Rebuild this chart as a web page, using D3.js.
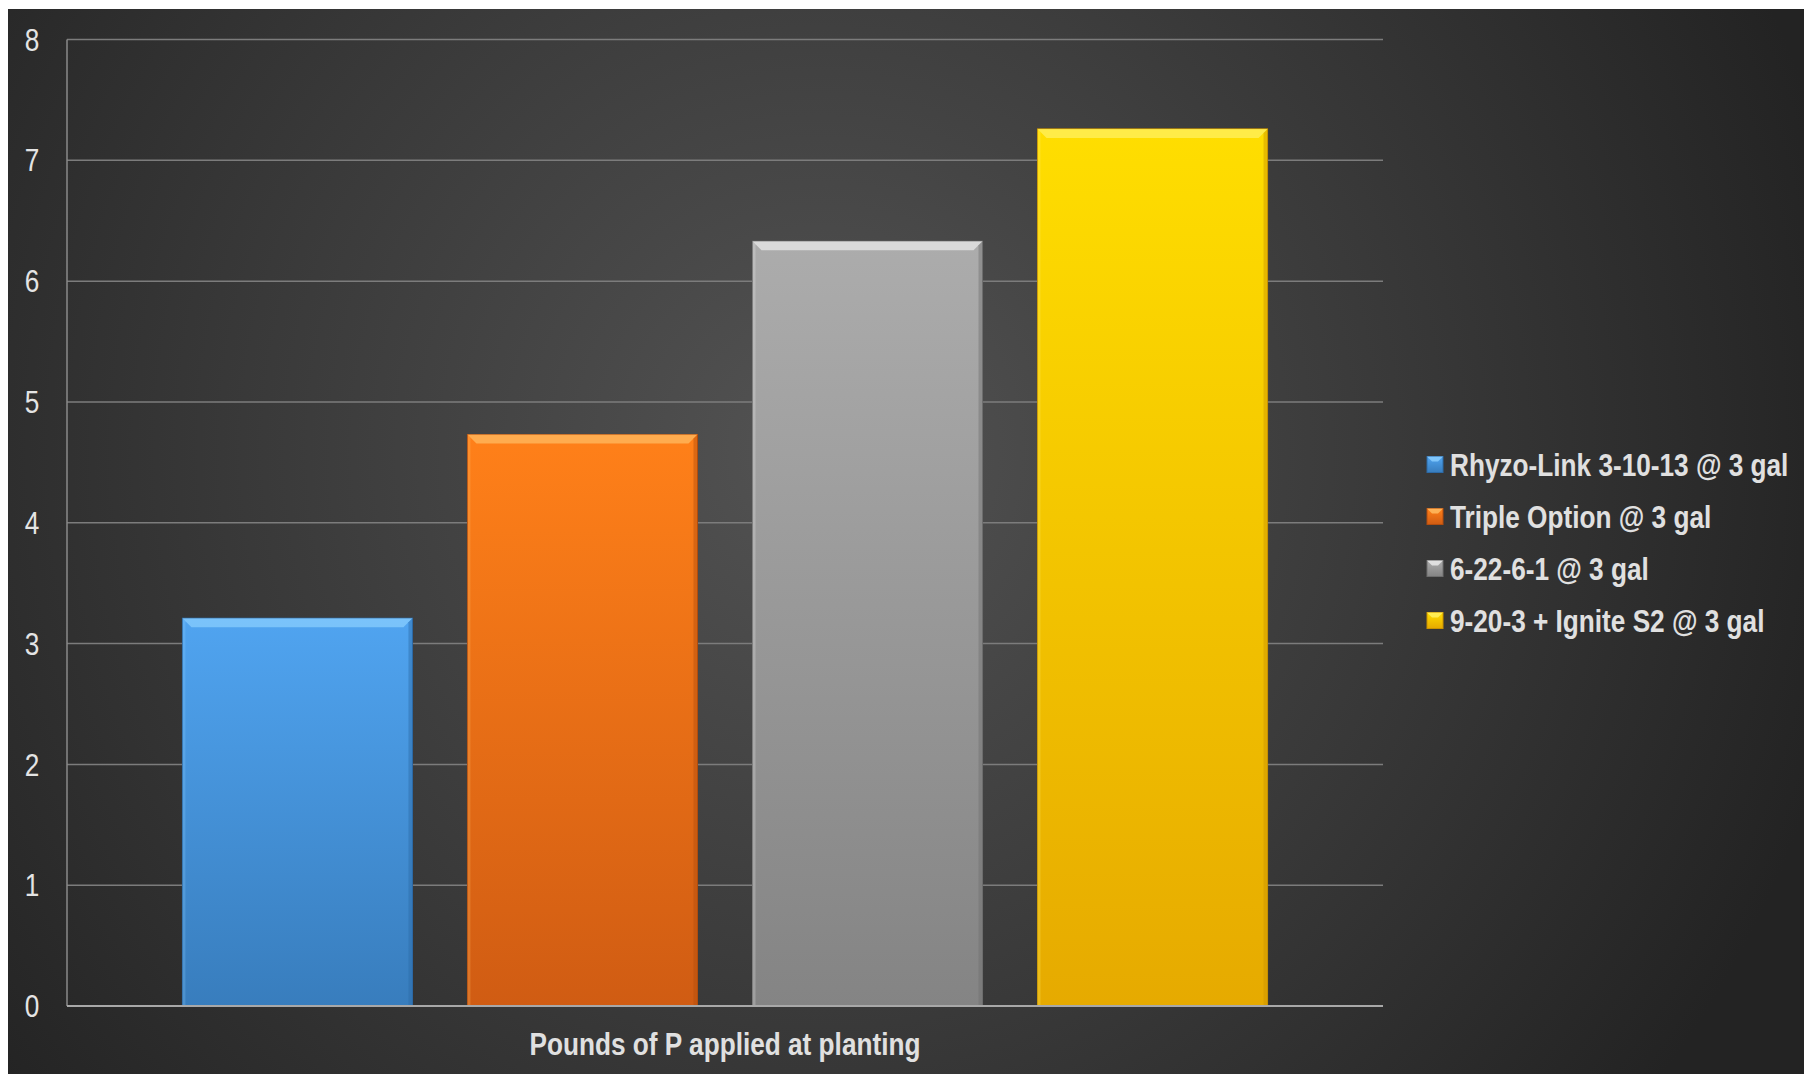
<!DOCTYPE html>
<html>
<head>
<meta charset="utf-8">
<script src="https://cdn.jsdelivr.net/npm/d3@7"></script>
<style>
  body { margin: 0; background: #ffffff; }
  svg { display: block; }
  .tick-label { font-family: "Liberation Sans", Arial, sans-serif; fill: #e4e4e4; }
  .bold-label { font-family: "Liberation Sans", Arial, sans-serif; font-weight: bold; fill: #e0e0e0; }
</style>
</head>
<body>
<svg id="chart" width="1804" height="1074"></svg>
<script>
// chart data
const seriesNames = ['Rhyzo-Link 3-10-13 @ 3 gal', 'Triple Option @ 3 gal', '6-22-6-1 @ 3 gal', '9-20-3 + Ignite S2 @ 3 gal']
const seriesValues = [3.21, 4.73, 6.33, 7.26]
const yTicks = [0, 1, 2, 3, 4, 5, 6, 7, 8]
const axisTitle = 'Pounds of P applied at planting'

// top / bottom colours for each bar
const topColors = ['#50a4f0', '#ff8019', '#acacac', '#ffde00']
const bottomColors = ['#387dbd', '#d05c13', '#848484', '#e6aa00']
const edgeColors = ['#2d6aa6', '#b24d0e', '#6e6e6e', '#c99200']
const lightColors = ['#8cd0ff', '#ffbf66', '#eeeeee', '#fff266']

// no narrow font installed, so squeeze the regular one
const narrow = 0.845

const svg = d3.select('#chart')
const W = 1804, H = 1074
const margin = { left: 67, right: 1383, top: 39.5, bottom: 1006 }

const defs = svg.append('defs')

// background radial gradient
const bg = defs.append('radialGradient')
  .attr('id', 'bgGrad')
  .attr('gradientUnits', 'userSpaceOnUse')
  .attr('cx', 820).attr('cy', 450).attr('r', 1050)
bg.append('stop').attr('offset', '0%').attr('stop-color', '#535353')
bg.append('stop').attr('offset', '55%').attr('stop-color', '#393939')
bg.append('stop').attr('offset', '100%').attr('stop-color', '#232323')

svg.append('rect')
  .attr('x', 8).attr('y', 9)
  .attr('width', W - 8).attr('height', H - 9)
  .attr('fill', 'url(#bgGrad)')

seriesNames.forEach((name, i) => {
  const g = defs.append('linearGradient')
    .attr('id', `barGrad${i}`)
    .attr('x1', 0).attr('y1', 0).attr('x2', 0).attr('y2', 1)
  g.append('stop').attr('offset', '0%').attr('stop-color', topColors[i])
  g.append('stop').attr('offset', '100%').attr('stop-color', bottomColors[i])
})

const y = d3.scaleLinear()
  .domain([0, 8])
  .range([margin.bottom, margin.top])

const x = d3.scaleBand()
  .domain(seriesNames)
  .range([margin.left, margin.right])
  .paddingInner(0.193)
  .paddingOuter(0.405)

// gridlines
svg.append('g')
  .selectAll('line')
  .data(yTicks.filter(t => t > 0))
  .join('line')
  .attr('x1', margin.left)
  .attr('x2', margin.right)
  .attr('y1', d => y(d))
  .attr('y2', d => y(d))
  .attr('stroke', '#7c7c7c')
  .attr('stroke-width', 1.5)

// left axis line
svg.append('line')
  .attr('x1', margin.left).attr('x2', margin.left)
  .attr('y1', y(8)).attr('y2', y(0))
  .attr('stroke', '#8a8a8a')
  .attr('stroke-width', 1.5)

// tick labels
svg.append('g')
  .selectAll('text')
  .data(yTicks)
  .join('text')
  .classed('tick-label', true)
  .attr('transform', d => `translate(32, ${y(d)}) scale(${narrow}, 1)`)
  .attr('dy', '0.36em')
  .attr('text-anchor', 'middle')
  .attr('font-size', 31)
  .text(d => d)

// bars with a bevelled look
const bev = 9
const bars = svg.append('g')
  .selectAll('g')
  .data(seriesValues)
  .join('g')

bars.append('rect')
  .attr('x', (d, i) => x(seriesNames[i]))
  .attr('y', d => y(d))
  .attr('width', x.bandwidth())
  .attr('height', d => y(0) - y(d))
  .attr('fill', (d, i) => `url(#barGrad${i})`)
  .attr('stroke', (d, i) => edgeColors[i])
  .attr('stroke-width', 1)

// top bevel
bars.append('path')
  .attr('d', (d, i) => {
    const x0 = x(seriesNames[i]), x1 = x0 + x.bandwidth(), y0 = y(d)
    return `M${x0},${y0}L${x1},${y0}L${x1 - bev},${y0 + bev}L${x0 + bev},${y0 + bev}Z`
  })
  .attr('fill', (d, i) => lightColors[i])
  .attr('opacity', 0.7)

// right side shade
bars.append('path')
  .attr('d', (d, i) => {
    const x1 = x(seriesNames[i]) + x.bandwidth(), y0 = y(d), yb = y(0)
    return `M${x1},${y0}L${x1},${yb}L${x1 - 4},${yb}L${x1 - 4},${y0 + 4}Z`
  })
  .attr('fill', (d, i) => edgeColors[i])
  .attr('opacity', 0.45)

// left side shade
bars.append('path')
  .attr('d', (d, i) => {
    const x0 = x(seriesNames[i]), y0 = y(d), yb = y(0)
    return `M${x0},${y0}L${x0},${yb}L${x0 + 3},${yb}L${x0 + 3},${y0 + 3}Z`
  })
  .attr('fill', (d, i) => lightColors[i])
  .attr('opacity', 0.25)

// x axis (baseline)
svg.append('line')
  .attr('x1', margin.left).attr('x2', margin.right)
  .attr('y1', y(0)).attr('y2', y(0))
  .attr('stroke', '#a8a8a8')
  .attr('stroke-width', 2)

// axis title
svg.append('text')
  .classed('bold-label', true)
  .attr('transform', `translate(${(margin.left + margin.right) / 2}, 1055) scale(${narrow}, 1)`)
  .attr('text-anchor', 'middle')
  .attr('font-size', 31)
  .text(axisTitle)

// legend
const legendY = d3.scalePoint()
  .domain(seriesNames)
  .range([464.5, 620.5])

const legend = svg.append('g')
  .selectAll('g')
  .data(seriesNames)
  .join('g')
  .attr('transform', d => `translate(1427, ${legendY(d)})`)

legend.append('rect')
  .attr('x', 0).attr('y', -8)
  .attr('width', 16).attr('height', 16)
  .attr('fill', (d, i) => `url(#barGrad${i})`)
  .attr('stroke', (d, i) => edgeColors[i])
  .attr('stroke-width', 1)

legend.append('path')
  .attr('d', 'M0,-8L16,-8L11,-3L5,-3Z')
  .attr('fill', (d, i) => lightColors[i])
  .attr('opacity', 0.8)

legend.append('text')
  .classed('bold-label', true)
  .attr('transform', `translate(23, 0) scale(${narrow}, 1)`)
  .attr('dy', '0.36em')
  .attr('font-size', 31)
  .text(d => d)
</script>
</body>
</html>
